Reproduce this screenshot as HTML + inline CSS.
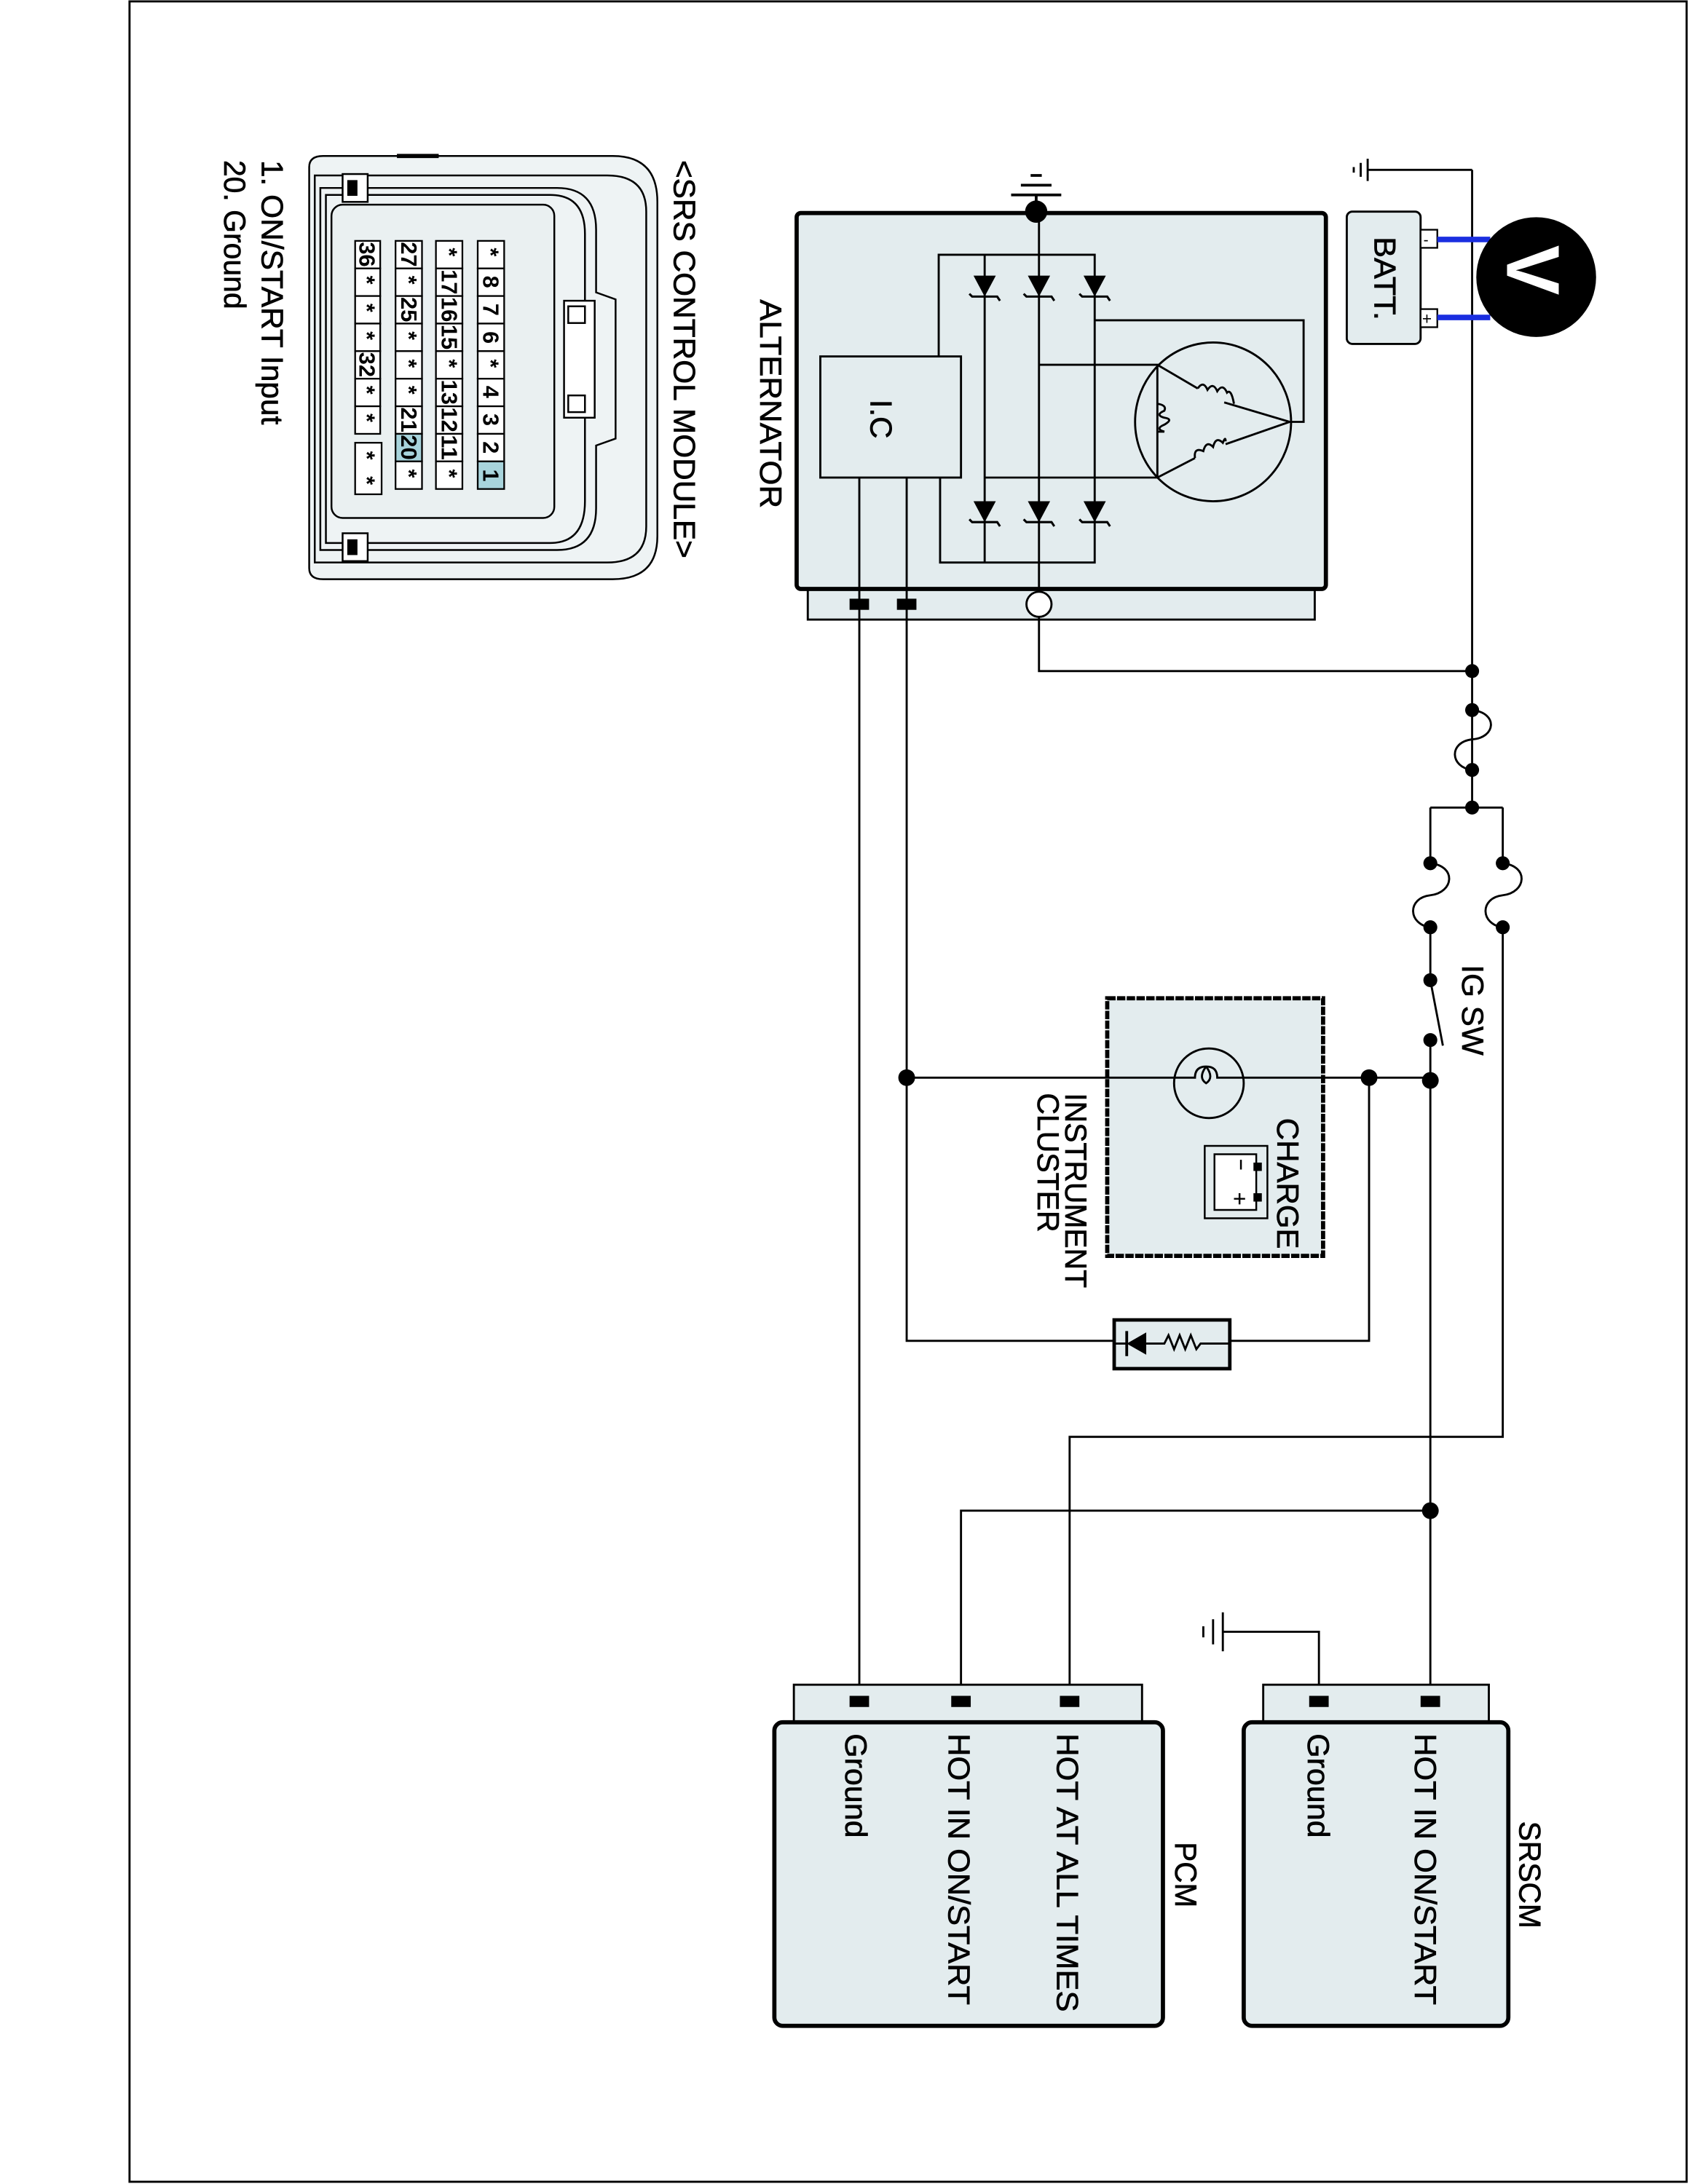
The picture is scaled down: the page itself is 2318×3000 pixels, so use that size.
<!DOCTYPE html>
<html><head><meta charset="utf-8"><style>
html,body{margin:0;padding:0;background:#fff}
svg{display:block}
text{font-family:"Liberation Sans",sans-serif;fill:#000}
.lb text{stroke:#000;stroke-width:0.35}
</style></head><body>
<svg width="2318" height="3000" viewBox="0 0 1212 1568.6" preserveAspectRatio="none" xmlns="http://www.w3.org/2000/svg">
<defs>
<g id="dd"><polygon points="-8,0 8,0 0,15" fill="#000"/><path d="M-11,13 l2,2 H9 l2,3" fill="none" stroke="#000" stroke-width="1.6"/></g>
</defs>
<rect x="93" y="1" width="1118" height="1566" fill="#fff" stroke="#000" stroke-width="1.5"/>

<!-- SRS connector -->
<g stroke="#000" stroke-width="1.3" fill="#eef3f4">
<path d="M222 120 Q222 112 232 112 L440 112 Q472 112 472 145 L472 385 Q472 416 440 416 L232 416 Q222 416 222 408 Z"/>
<path d="M226 126 L436 126 Q464 126 464 152 L464 378 Q464 404 436 404 L226 404 Z" fill="none"/>
<path d="M230 135 L400 135 Q428 135 428 165 L428 210 L442 215 L442 315 L428 320 L428 365 Q428 395 400 395 L230 395 Z"/>
<path d="M234 140 L395 140 Q420 140 420 168 L420 360 Q420 390 395 390 L234 390 Z" fill="none"/>
<rect x="238" y="147" width="160" height="225" rx="8" fill="#eaf0f1"/>
<rect x="405" y="216" width="22" height="84" fill="#fff"/>
<rect x="408" y="220" width="12" height="12" fill="none"/><rect x="408" y="284" width="12" height="12" fill="none"/>
<rect x="246" y="125" width="18" height="20" fill="#fff"/><rect x="246" y="383" width="18" height="20" fill="#fff"/>
<rect x="250" y="130" width="6" height="10" fill="#000"/><rect x="250" y="388" width="6" height="10" fill="#000"/>
<line x1="285" y1="112" x2="315" y2="112" stroke-width="3"/>
</g>
<g stroke="#000" stroke-width="1.2">
<g fill="#fff">
<rect x="343" y="173" width="19" height="19.8"/><rect x="343" y="192.8" width="19" height="19.8"/><rect x="343" y="212.6" width="19" height="19.8"/><rect x="343" y="232.4" width="19" height="19.8"/><rect x="343" y="252.2" width="19" height="19.8"/><rect x="343" y="272" width="19" height="19.8"/><rect x="343" y="291.8" width="19" height="19.8"/><rect x="343" y="311.6" width="19" height="19.8"/><rect x="343" y="331.4" width="19" height="19.8" fill="#a8d4dc"/>
<rect x="313" y="173" width="19" height="19.8"/><rect x="313" y="192.8" width="19" height="19.8"/><rect x="313" y="212.6" width="19" height="19.8"/><rect x="313" y="232.4" width="19" height="19.8"/><rect x="313" y="252.2" width="19" height="19.8"/><rect x="313" y="272" width="19" height="19.8"/><rect x="313" y="291.8" width="19" height="19.8"/><rect x="313" y="311.6" width="19" height="19.8"/><rect x="313" y="331.4" width="19" height="19.8"/>
<rect x="284" y="173" width="19" height="19.8"/><rect x="284" y="192.8" width="19" height="19.8"/><rect x="284" y="212.6" width="19" height="19.8"/><rect x="284" y="232.4" width="19" height="19.8"/><rect x="284" y="252.2" width="19" height="19.8"/><rect x="284" y="272" width="19" height="19.8"/><rect x="284" y="291.8" width="19" height="19.8"/><rect x="284" y="311.6" width="19" height="19.8" fill="#a8d4dc"/><rect x="284" y="331.4" width="19" height="19.8"/>
<rect x="255" y="173" width="18" height="19.8"/><rect x="255" y="192.8" width="18" height="19.8"/><rect x="255" y="212.6" width="18" height="19.8"/><rect x="255" y="232.4" width="18" height="19.8"/><rect x="255" y="252.2" width="18" height="19.8"/><rect x="255" y="272" width="18" height="19.8"/><rect x="255" y="291.8" width="18" height="19.8"/>
<rect x="255" y="318" width="19" height="37"/>
</g>
</g>
<g font-size="16" font-weight="bold" stroke="none">
<g transform="translate(347,0)">
<text transform="translate(0,178) rotate(90)">*</text>
<text transform="translate(0,198) rotate(90)">8</text><text transform="translate(0,218) rotate(90)">7</text><text transform="translate(0,238) rotate(90)">6</text><text transform="translate(0,258) rotate(90)">*</text><text transform="translate(0,277) rotate(90)">4</text><text transform="translate(0,297) rotate(90)">3</text><text transform="translate(0,317) rotate(90)">2</text><text transform="translate(0,337) rotate(90)">1</text>
</g>
<g transform="translate(317,0)">
<text transform="translate(0,178) rotate(90)">*</text><text transform="translate(0,193.5) rotate(90)" textLength="18" lengthAdjust="spacingAndGlyphs">17</text><text transform="translate(0,213.3) rotate(90)" textLength="18" lengthAdjust="spacingAndGlyphs">16</text><text transform="translate(0,233.1) rotate(90)" textLength="18" lengthAdjust="spacingAndGlyphs">15</text><text transform="translate(0,258) rotate(90)">*</text><text transform="translate(0,272.7) rotate(90)" textLength="18" lengthAdjust="spacingAndGlyphs">13</text><text transform="translate(0,292.5) rotate(90)" textLength="18" lengthAdjust="spacingAndGlyphs">12</text><text transform="translate(0,312.3) rotate(90)" textLength="18" lengthAdjust="spacingAndGlyphs">11</text><text transform="translate(0,337) rotate(90)">*</text>
</g>
<g transform="translate(288,0)">
<text transform="translate(0,173.7) rotate(90)" textLength="18" lengthAdjust="spacingAndGlyphs">27</text><text transform="translate(0,198) rotate(90)">*</text><text transform="translate(0,213.3) rotate(90)" textLength="18" lengthAdjust="spacingAndGlyphs">25</text><text transform="translate(0,238) rotate(90)">*</text><text transform="translate(0,258) rotate(90)">*</text><text transform="translate(0,277) rotate(90)">*</text><text transform="translate(0,292.5) rotate(90)" textLength="18" lengthAdjust="spacingAndGlyphs">21</text><text transform="translate(0,312.3) rotate(90)" textLength="18" lengthAdjust="spacingAndGlyphs">20</text><text transform="translate(0,337) rotate(90)">*</text>
</g>
<g transform="translate(258,0)">
<text transform="translate(0,173.7) rotate(90)" textLength="18" lengthAdjust="spacingAndGlyphs">36</text><text transform="translate(0,198) rotate(90)">*</text><text transform="translate(0,218) rotate(90)">*</text><text transform="translate(0,238) rotate(90)">*</text><text transform="translate(0,252.9) rotate(90)" textLength="18" lengthAdjust="spacingAndGlyphs">32</text><text transform="translate(0,277) rotate(90)">*</text><text transform="translate(0,297) rotate(90)">*</text><text transform="translate(0,324) rotate(90)">*</text><text transform="translate(0,342) rotate(90)">*</text>
</g>
</g>

<g font-size="22" class="lb">
<text transform="translate(484,115) rotate(90)" textLength="286" lengthAdjust="spacingAndGlyphs">&lt;SRS CONTROL MODULE&gt;</text>
<text transform="translate(188,115) rotate(90)" textLength="190" lengthAdjust="spacingAndGlyphs">1. ON/START Input</text>
<text transform="translate(161,115) rotate(90)" textLength="107" lengthAdjust="spacingAndGlyphs">20. Ground</text>
<text transform="translate(546,215) rotate(90)" textLength="150" lengthAdjust="spacingAndGlyphs">ALTERNATOR</text>
<text transform="translate(1050,693) rotate(90)" textLength="65" lengthAdjust="spacingAndGlyphs">IG SW</text>
<text transform="translate(765,785) rotate(90)" textLength="140" lengthAdjust="spacingAndGlyphs">INSTRUMENT</text>
<text transform="translate(745,785) rotate(90)" textLength="100" lengthAdjust="spacingAndGlyphs">CLUSTER</text>
<text transform="translate(1091,1308) rotate(90)" textLength="77" lengthAdjust="spacingAndGlyphs">SRSCM</text>
<text transform="translate(844,1323) rotate(90)" textLength="47" lengthAdjust="spacingAndGlyphs">PCM</text>
</g>

<!-- Alternator -->
<g stroke="#000" fill="#e3ecee">
<rect x="580" y="420" width="364" height="25" stroke-width="1.5"/>
<rect x="572" y="153" width="380" height="270" rx="3" stroke-width="3"/>
<rect x="589" y="256" width="101" height="87" stroke-width="1.5"/>
<ellipse cx="871" cy="303" rx="56" ry="57" stroke-width="1.5"/>
</g>
<g class="lb"><text transform="translate(625,287) rotate(90)" font-size="22" textLength="28" lengthAdjust="spacingAndGlyphs">I.C</text></g>
<g stroke="#000" stroke-width="1.5" fill="none">
<path d="M746 152 V434"/>
<path d="M674 256 V183 H786 V404 H675 V343"/>
<path d="M707 183 V404"/>
<path d="M786 230 H936 V303 H926"/>
<path d="M746 262 H831 V343 H707"/>
<path d="M831 262 L860 279 M879 289 L926 303 L880 319 M858 329 L831 343"/>
<path d="M860 279 q4-6 7 1 q4-6 7 1 q4-6 7 1 q3 -3 5 8" />
<path d="M858 329 q-1-8 6-5 q2-8 7-3 q2-8 7-3 q2-5 2-1"/>
<path d="M831 290 q7 1 5 5 q-7 3 0 5 q7 1 0 5 q-7 3 0 5 h-5"/>
<path d="M617 343 V1222 M651 343 V963 H800 M882 963 H983 V774 M651 774 H1027"/>
<path d="M746 443 V482 H1057"/>
<path d="M726 140 H762 M733 133 H755 M740 126 H748 M744 140 V152" stroke-width="2"/>
</g>
<g><use href="#dd" x="707" y="198"/><use href="#dd" x="746" y="198"/><use href="#dd" x="786" y="198"/>
<use href="#dd" x="707" y="360"/><use href="#dd" x="746" y="360"/><use href="#dd" x="786" y="360"/></g>
<circle cx="744" cy="152" r="8" fill="#000"/>
<circle cx="746" cy="434" r="9" fill="#fff" stroke="#000" stroke-width="1.5"/>
<rect x="610" y="430" width="14" height="8" fill="#000"/><rect x="644" y="430" width="14" height="8" fill="#000"/>

<!-- battery & meter -->
<g stroke="#000" stroke-width="1.5" fill="none">
<path d="M1057 122 H982 M982 114 V130 M977 117 V127 M972 120 V124"/>
<path d="M1057 122 V580 M1027 580 H1079 M1027 580 V620 M1079 580 V620"/>
<path d="M1027 666 V704 M1027 704 L1036 751 M1027 747 V1222 M1079 666 V1032 H768 V1222 M1027 1085 H690 V1222"/>
<path d="M947 1222 V1172 H878 M878 1158 V1186 M871 1163 V1181 M864 1168 V1176" />
<path d="M1057 510 C1076 512 1074 530 1057 531 C1040 533 1041 551 1057 553"/>
<path d="M1027 620 C1046 622 1044 641 1027 643 C1010 645 1011 664 1027 666"/>
<path d="M1079 620 C1098 622 1096 641 1079 643 C1062 645 1063 664 1079 666"/>
</g>
<rect x="967" y="152" width="53" height="95" rx="4" fill="#e3ecee" stroke="#000" stroke-width="1.5"/>
<rect x="1020" y="165" width="12" height="13" fill="#fff" stroke="#000" stroke-width="1.2"/>
<rect x="1020" y="222" width="12" height="13" fill="#fff" stroke="#000" stroke-width="1.2"/>
<text x="1022" y="176" font-size="11">-</text><text x="1021" y="233" font-size="12">+</text>
<g class="lb"><text transform="translate(987,170) rotate(90)" font-size="22" textLength="60" lengthAdjust="spacingAndGlyphs">BATT.</text></g>
<path d="M1032 172 H1070 M1032 228 H1070" stroke="#1a2ee0" stroke-width="4"/>
<circle cx="1103" cy="199" r="43" fill="#000"/>
<text transform="translate(1082,176) rotate(90)" font-size="54" font-weight="bold" style="fill:#fff">V</text>

<g fill="#000">
<circle cx="1057" cy="482" r="5"/><circle cx="1057" cy="510" r="5"/><circle cx="1057" cy="553" r="5"/><circle cx="1057" cy="580" r="5"/>
<circle cx="1027" cy="620" r="5"/><circle cx="1027" cy="666" r="5"/><circle cx="1079" cy="620" r="5"/><circle cx="1079" cy="666" r="5"/>
<circle cx="1027" cy="704" r="5"/><circle cx="1027" cy="747" r="5"/><circle cx="1027" cy="776" r="6"/><circle cx="983" cy="774" r="6"/><circle cx="651" cy="774" r="6"/><circle cx="1027" cy="1085" r="6"/>
</g>

<!-- instrument cluster -->
<rect x="795" y="717" width="155" height="185" fill="#e3ecee" stroke="#000" stroke-width="3" stroke-dasharray="6 1"/>
<path d="M795 774 H950" stroke="#000" stroke-width="1.5"/>
<ellipse cx="868" cy="778" rx="25" ry="25" fill="#e3ecee" stroke="#000" stroke-width="1.5"/>
<path d="M843 774 H858 q0-8 8-8 q8 0 8 8 H893 M866 766 q-6 8 0 12 q6-4 0-12" fill="none" stroke="#000" stroke-width="1.5"/>
<rect x="865" y="823" width="45" height="52" fill="#e3ecee" stroke="#000" stroke-width="1.3"/>
<rect x="872" y="829" width="30" height="40" fill="#fff" stroke="#000" stroke-width="1.3"/>
<rect x="900" y="835" width="6" height="6" fill="#000"/><rect x="900" y="857" width="6" height="6" fill="#000"/>
<path d="M891 833 V840 M886 861 H894 M890 857 V865" stroke="#000" stroke-width="1.3"/>
<rect x="800" y="948" width="83" height="35" fill="#e3ecee" stroke="#000" stroke-width="2.5"/>
<path d="M800 965 H809 M823 965 H836 l3-6 l4 10 l4-10 l4 10 l4-10 l4 10 l3-4 H883" fill="none" stroke="#000" stroke-width="1.5"/>
<polygon points="809,965 823,957 823,973" fill="#000"/><path d="M809 956 V974" stroke="#000" stroke-width="2"/>

<!-- SRSCM -->
<rect x="907" y="1210" width="162" height="30" fill="#e3ecee" stroke="#000" stroke-width="1.5"/>
<rect x="893" y="1237" width="190" height="218" rx="6" fill="#e3ecee" stroke="#000" stroke-width="3"/>
<rect x="940" y="1218" width="14" height="8" fill="#000"/><rect x="1020" y="1218" width="14" height="8" fill="#000"/>
<!-- PCM -->
<rect x="570" y="1210" width="250" height="30" fill="#e3ecee" stroke="#000" stroke-width="1.5"/>
<rect x="556" y="1237" width="279" height="218" rx="6" fill="#e3ecee" stroke="#000" stroke-width="3"/>
<rect x="610" y="1218" width="14" height="8" fill="#000"/><rect x="683" y="1218" width="14" height="8" fill="#000"/><rect x="761" y="1218" width="14" height="8" fill="#000"/>
<g font-size="22" class="lb">
<text transform="translate(939,1245) rotate(90)" textLength="75" lengthAdjust="spacingAndGlyphs">Ground</text>
<text transform="translate(1016,1245) rotate(90)" textLength="195" lengthAdjust="spacingAndGlyphs">HOT IN ON/START</text>
<text transform="translate(607,1245) rotate(90)" textLength="75" lengthAdjust="spacingAndGlyphs">Ground</text>
<text transform="translate(681,1245) rotate(90)" textLength="195" lengthAdjust="spacingAndGlyphs">HOT IN ON/START</text>
<text transform="translate(759,1245) rotate(90)" textLength="200" lengthAdjust="spacingAndGlyphs">HOT AT ALL TIMES</text>
<text transform="translate(917,803) rotate(90)" textLength="94" lengthAdjust="spacingAndGlyphs">CHARGE</text>
</g>
</svg>
</body></html>
